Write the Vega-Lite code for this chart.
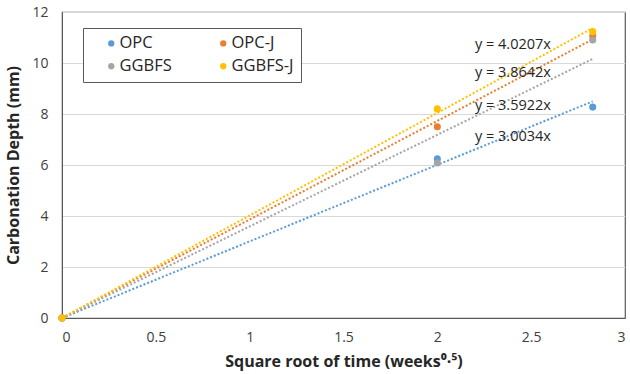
{
  "$schema": "https://vega.github.io/schema/vega-lite/v6.json",
  "width": 563,
  "height": 306,
  "autosize": "none",
  "padding": {"left": 62, "top": 12, "right": 5, "bottom": 56},
  "background": "white",
  "config": {
    "font": "Open Sans",
    "view": {"stroke": "#595959", "strokeWidth": 1.2},
    "axis": {
      "labelFont": "Open Sans",
      "labelFontSize": 14,
      "labelColor": "#404040",
      "titleFont": "Open Sans",
      "titleFontSize": 16,
      "titleFontWeight": "bold",
      "titleColor": "#262626",
      "domainColor": "#595959",
      "ticks": false
    }
  },
  "datasets": {
    "measured": [
      {"series": "OPC", "t": 0, "depth": 0},
      {"series": "OPC-J", "t": 0, "depth": 0},
      {"series": "GGBFS", "t": 0, "depth": 0},
      {"series": "GGBFS-J", "t": 0, "depth": 0},
      {"series": "OPC", "t": 2, "depth": 6.24},
      {"series": "OPC-J", "t": 2, "depth": 7.5},
      {"series": "GGBFS", "t": 2, "depth": 6.08},
      {"series": "GGBFS-J", "t": 2, "depth": 8.2},
      {"series": "OPC", "t": 2.828, "depth": 8.27},
      {"series": "OPC-J", "t": 2.828, "depth": 11.06},
      {"series": "GGBFS", "t": 2.828, "depth": 10.9},
      {"series": "GGBFS-J", "t": 2.828, "depth": 11.23}
    ],
    "trend": [
      {"series": "OPC", "t": 0, "depth": 0},
      {"series": "OPC", "t": 2.828, "depth": 8.494},
      {"series": "OPC-J", "t": 0, "depth": 0},
      {"series": "OPC-J", "t": 2.828, "depth": 10.928},
      {"series": "GGBFS", "t": 0, "depth": 0},
      {"series": "GGBFS", "t": 2.828, "depth": 10.159},
      {"series": "GGBFS-J", "t": 0, "depth": 0},
      {"series": "GGBFS-J", "t": 2.828, "depth": 11.371}
    ],
    "equations": [
      {"label": "y = 4.0207x", "t": 2.403, "depth": 10.71},
      {"label": "y = 3.8642x", "t": 2.403, "depth": 9.61},
      {"label": "y = 3.5922x", "t": 2.403, "depth": 8.31},
      {"label": "y = 3.0034x", "t": 2.403, "depth": 7.1}
    ]
  },
  "layer": [
    {
      "data": {"name": "trend"},
      "mark": {"type": "line", "strokeDash": [2, 2], "strokeWidth": 2},
      "encoding": {
        "x": {"field": "t", "type": "quantitative"},
        "y": {"field": "depth", "type": "quantitative"},
        "color": {"field": "series", "type": "nominal"}
      }
    },
    {
      "data": {"name": "measured"},
      "mark": {"type": "point", "filled": true, "opacity": 1, "size": 50},
      "encoding": {
        "x": {
          "field": "t",
          "type": "quantitative",
          "scale": {"domain": [0, 3], "nice": false},
          "axis": {
            "values": [0, 0.5, 1, 1.5, 2, 2.5, 3],
            "format": "~g",
            "grid": false,
            "labelPadding": 12,
            "title": "Square root of time (weeks⁰·⁵)",
            "titlePadding": 9
          }
        },
        "y": {
          "field": "depth",
          "type": "quantitative",
          "scale": {"domain": [0, 12], "nice": false},
          "axis": {
            "values": [0, 2, 4, 6, 8, 10, 12],
            "grid": true,
            "gridColor": "#D9D9D9",
            "labelPadding": 14,
            "title": "Carbonation Depth (mm)",
            "titlePadding": 10
          }
        },
        "color": {
          "field": "series",
          "type": "nominal",
          "scale": {"domain": ["OPC", "OPC-J", "GGBFS", "GGBFS-J"], "range": ["#5B9BD5", "#ED7D31", "#A5A5A5", "#FFC000"]},
          "legend": {
            "title": null,
            "orient": "none",
            "legendX": 21,
            "legendY": 16,
            "direction": "horizontal",
            "columns": 2,
            "columnPadding": 30,
            "rowPadding": 6,
            "symbolType": "circle",
            "symbolSize": 40,
            "symbolStrokeWidth": 0,
            "symbolDash": [],
            "symbolOffset": 13,
            "labelOffset": 0,
            "labelFont": "Open Sans",
            "labelFontSize": 16.5,
            "labelColor": "#262626",
            "strokeColor": "#595959",
            "fillColor": "white",
            "padding": 7
          }
        }
      }
    },
    {
      "data": {"name": "equations"},
      "mark": {"type": "text", "fontSize": 14.5, "color": "#262626", "font": "Open Sans"},
      "encoding": {
        "x": {"field": "t", "type": "quantitative"},
        "y": {"field": "depth", "type": "quantitative"},
        "text": {"field": "label"}
      }
    }
  ]
}
